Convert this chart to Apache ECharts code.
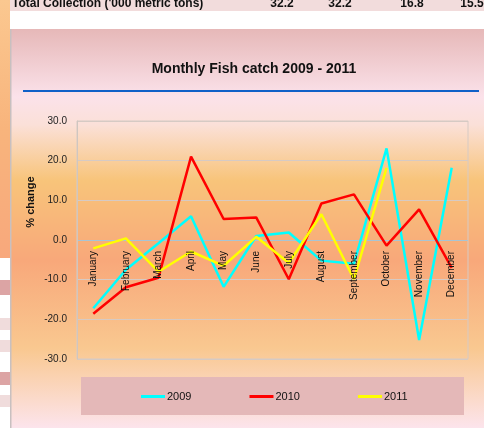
<!DOCTYPE html>
<html>
<head>
<meta charset="utf-8">
<script src="https://cdn.jsdelivr.net/npm/echarts@6/dist/echarts.min.js"></script>
<style>
html,body{margin:0;padding:0;background:#fff;}
#c{width:484px;height:428px;}
</style>
</head>
<body>
<div id="c"></div>
<script>
const months = ['January','February','March','April','May','June','July','August','September','October','November','December'];
const s2009 = [-17.2, -7.5, -0.8, 6.0, -11.8, 1.0, 1.9, -5.2, -6.0, 23.1, -25.2, 18.2];
const s2010 = [-18.6, -11.9, -9.5, 21.0, 5.3, 5.7, -9.9, 9.2, 11.5, -1.4, 7.7, -7.0];
const s2011 = [-2.1, 0.4, -8.0, -2.9, -6.5, 0.8, -5.8, 6.5, -9.9, 18.2, null, null];
const yTicks = {min: -30, max: 30, interval: 10};
const tableRow = ["Total Collection ('000 metric tons)", '32.2', '32.2', '16.8', '15.5'];

const chart = echarts.init(document.getElementById('c'));
const font = '"Liberation Sans", Arial, sans-serif';
const tf = 'bold 12px ' + font;
chart.setOption({
  animation: false,
  graphic: [
    {type:'rect', z:-10, shape:{x:0,y:0,width:10,height:258}, style:{fill:{type:'linear',x:0,y:0,x2:0,y2:1,colorStops:[{offset:0,color:'#fbc890'},{offset:0.5,color:'#f8b47c'},{offset:1,color:'#f8a87c'}]}}},
    {type:'rect', z:-10, shape:{x:0,y:280,width:10,height:15}, style:{fill:'#dca4a4'}},
    {type:'rect', z:-10, shape:{x:0,y:318,width:10,height:12}, style:{fill:'#f0dcdc'}},
    {type:'rect', z:-10, shape:{x:0,y:340,width:10,height:12}, style:{fill:'#f0dcdc'}},
    {type:'rect', z:-10, shape:{x:0,y:372,width:10,height:13}, style:{fill:'#dca4a4'}},
    {type:'rect', z:-10, shape:{x:0,y:395,width:10,height:12}, style:{fill:'#f0dcdc'}},
    {type:'rect', z:-10, shape:{x:10,y:0,width:474,height:11}, style:{fill:'#f2dcdc'}},
    {type:'text', z:5, style:{x:12, y:10, text:tableRow[0], font:tf, fill:'#111', textVerticalAlign:'bottom'}},
    {type:'text', z:5, style:{x:282, y:10, text:tableRow[1], font:tf, fill:'#111', textAlign:'center', textVerticalAlign:'bottom'}},
    {type:'text', z:5, style:{x:340, y:10, text:tableRow[2], font:tf, fill:'#111', textAlign:'center', textVerticalAlign:'bottom'}},
    {type:'text', z:5, style:{x:412, y:10, text:tableRow[3], font:tf, fill:'#111', textAlign:'center', textVerticalAlign:'bottom'}},
    {type:'text', z:5, style:{x:472, y:10, text:tableRow[4], font:tf, fill:'#111', textAlign:'center', textVerticalAlign:'bottom'}},
    {type:'rect', z:-10, shape:{x:11,y:29,width:473,height:399}, style:{fill:{type:'linear',x:0,y:0,x2:0,y2:1,colorStops:[
      {offset:0,color:'#e6b8b8'},{offset:0.17,color:'#fbe2ea'},{offset:0.24,color:'#fbe0d8'},
      {offset:0.38,color:'#f8c47a'},{offset:0.58,color:'#f8a87a'},{offset:0.8,color:'#f9c890'},{offset:1,color:'#fce4ec'}]}}},
    {type:'rect', z:-9, shape:{x:10,y:29,width:1.5,height:399}, style:{fill:'#c8c0c0'}},
    {type:'rect', z:-9, shape:{x:23,y:90,width:456,height:2}, style:{fill:'#1060c8'}},
    {type:'text', z:5, style:{x:254, y:69, text:'Monthly Fish catch 2009 - 2011', font:'bold 14px '+font, fill:'#111', textAlign:'center', textVerticalAlign:'middle'}},
    {type:'text', z:5, x:31, y:202, rotation:Math.PI/2, style:{x:0, y:0, text:'% change', font:'bold 11px '+font, fill:'#111', textAlign:'center', textVerticalAlign:'middle'}},
    {type:'rect', z:-8, shape:{x:81,y:377,width:383,height:38}, style:{fill:'#e4b8b8'}}
  ],
  legend: {
    bottom: 26, left: 141, itemGap: 58, itemWidth: 24, itemHeight: 3, padding: 0, icon: 'rect',
    textStyle: {fontFamily: font, fontSize: 11, color:'#111', padding:[0,0,0,-3]},
    data: ['2009','2010','2011']
  },
  grid: {left: 77, right: 16, top: 121, bottom: 69, show: true, borderColor: '#d6cac4', borderWidth: 1, backgroundColor: 'transparent'},
  xAxis: {
    type: 'category', data: months, boundaryGap: true, z: 10,
    axisLine: {show: false, onZero: false},
    axisTick: {show: false},
    axisLabel: {rotate: 90, fontFamily: font, fontSize: 10, color: '#111', margin: -108, interval: 0},
    splitLine: {show: false}
  },
  yAxis: {
    type: 'value', min: yTicks.min, max: yTicks.max, interval: yTicks.interval,
    axisLine: {show: true, lineStyle: {color: '#cfc6c0'}},
    axisTick: {show: false},
    axisLabel: {formatter: v => v.toFixed(1), fontFamily: font, fontSize: 10, color: '#222', margin: 10},
    splitLine: {show: true, lineStyle: {color: ['#d6cac4','#d6cac4','#d6cac4','#a8c4d4','#d6cac4','#d6cac4','#d6cac4'], width: 1}}
  },
  series: [
    {name:'2009', type:'line', data:s2009, symbol:'none', lineStyle:{color:'#00ffff', width:2.5}, itemStyle:{color:'#00ffff'}, z:2},
    {name:'2010', type:'line', data:s2010, symbol:'none', lineStyle:{color:'#ff0000', width:2.5}, itemStyle:{color:'#ff0000'}, z:3},
    {name:'2011', type:'line', data:s2011, symbol:'none', lineStyle:{color:'#ffff00', width:2.5}, itemStyle:{color:'#ffff00'}, z:4}
  ]
});
</script>
</body>
</html>
